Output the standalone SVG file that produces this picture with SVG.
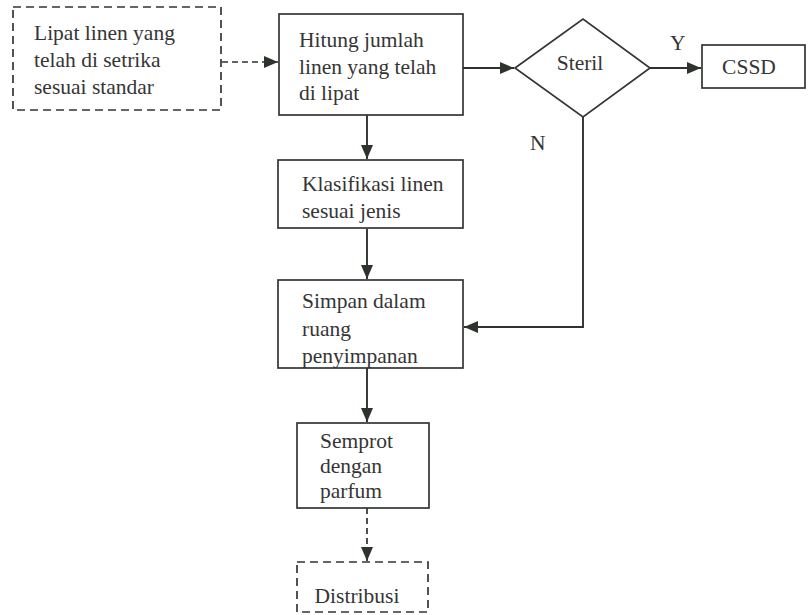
<svg xmlns="http://www.w3.org/2000/svg" width="810" height="615" viewBox="0 0 810 615">
  <defs>
    <marker id="arrow" viewBox="0 0 14 12" refX="14" refY="6" markerWidth="14" markerHeight="12" markerUnits="userSpaceOnUse" orient="auto">
      <path d="M0,0 L14,6 L0,12 Z" fill="#2e332e"/>
    </marker>
    <style>
      .box { fill: #ffffff; stroke: #333633; stroke-width: 1.7; }
      .dash { fill: #ffffff; stroke: #333633; stroke-width: 1.7; stroke-dasharray: 8 5; }
      .line { fill: none; stroke: #2e332e; stroke-width: 1.9; }
      .dline { fill: none; stroke: #2e332e; stroke-width: 1.7; stroke-dasharray: 6 4; }
      .t { font-family: 'Liberation Serif', serif !important; font-size: 21.5px; fill: #353535; }
    </style>
  </defs>
  <rect width="810" height="615" fill="#ffffff"/>

  <!-- process steps -->
  <g id="lipat">
    <rect class="dash" x="13" y="7" width="208" height="103"/>
    <text class="t" style="font-family:'Liberation Serif',serif" x="34" y="40">Lipat linen yang</text>
    <text class="t" style="font-family:'Liberation Serif',serif" x="34" y="67">telah  di setrika</text>
    <text class="t" style="font-family:'Liberation Serif',serif" x="34" y="94">sesuai standar</text>
  </g>
  <g id="hitung">
    <rect class="box" x="279" y="14" width="184" height="101"/>
    <text class="t" style="font-family:'Liberation Serif',serif" x="299" y="47">Hitung jumlah</text>
    <text class="t" style="font-family:'Liberation Serif',serif" x="299" y="74">linen yang telah</text>
    <text class="t" style="font-family:'Liberation Serif',serif" x="299" y="100">di lipat</text>
  </g>
  <g id="steril">
    <polygon class="box" points="515,68 583,19 650,68 583,117"/>
    <text class="t" style="font-family:'Liberation Serif',serif" x="580" y="70" text-anchor="middle">Steril</text>
  </g>
  <g id="cssd">
    <rect class="box" x="702" y="45" width="103" height="43"/>
    <text class="t" style="font-family:'Liberation Serif',serif" x="749" y="74" text-anchor="middle">CSSD</text>
  </g>
  <g id="klasifikasi">
    <rect class="box" x="278" y="160" width="185" height="68"/>
    <text class="t" style="font-family:'Liberation Serif',serif" x="302" y="191">Klasifikasi linen</text>
    <text class="t" style="font-family:'Liberation Serif',serif" x="302" y="218">sesuai jenis</text>
  </g>
  <g id="simpan">
    <rect class="box" x="278" y="280" width="185" height="88"/>
    <text class="t" style="font-family:'Liberation Serif',serif" x="302" y="308">Simpan dalam</text>
    <text class="t" style="font-family:'Liberation Serif',serif" x="302" y="336">ruang</text>
    <text class="t" style="font-family:'Liberation Serif',serif" x="302" y="363">penyimpanan</text>
  </g>
  <g id="semprot">
    <rect class="box" x="297" y="423" width="132" height="85"/>
    <text class="t" style="font-family:'Liberation Serif',serif" x="320" y="448">Semprot</text>
    <text class="t" style="font-family:'Liberation Serif',serif" x="320" y="473">dengan</text>
    <text class="t" style="font-family:'Liberation Serif',serif" x="320" y="498">parfum</text>
  </g>
  <g id="distribusi">
    <rect class="dash" x="297" y="562" width="131" height="50"/>
    <text class="t" style="font-family:'Liberation Serif',serif" x="357" y="603" text-anchor="middle">Distribusi</text>
  </g>

  <!-- connectors -->
  <g id="connectors">
    <path class="dline" d="M222,62 H278" marker-end="url(#arrow)"/>
    <path class="line" d="M463,68 H514" marker-end="url(#arrow)"/>
    <path class="line" d="M650,68 H701" marker-end="url(#arrow)"/>
    <path class="line" d="M367,115 V159" marker-end="url(#arrow)"/>
    <path class="line" d="M367,229 V279" marker-end="url(#arrow)"/>
    <path class="line" d="M583,117 V327 H464" marker-end="url(#arrow)"/>
    <path class="line" d="M367,368 V422" marker-end="url(#arrow)"/>
    <path class="dline" d="M367,508 V561" marker-end="url(#arrow)"/>
    <text class="t" style="font-family:'Liberation Serif',serif" x="670" y="50">Y</text>
    <text class="t" style="font-family:'Liberation Serif',serif" x="530" y="150">N</text>
  </g>
</svg>
